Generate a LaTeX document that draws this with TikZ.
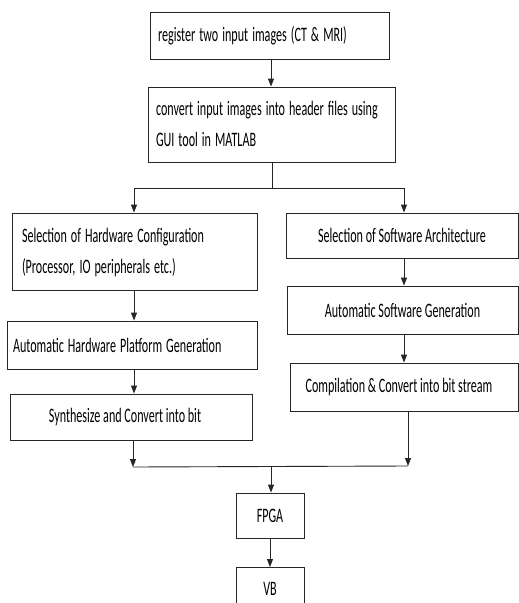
\documentclass[tikz,border=0pt]{standalone}
\usepackage{fontspec}
\setmainfont{Carlito}
\usepackage{graphicx}
\usetikzlibrary{arrows.meta}
\newcommand\tx[1]{\scalebox{1}[1.7]{#1}}
\newcommand\txx[2]{\scalebox{1}[1.7]{\def\arraystretch{1.26}\begin{tabular}{@{}l@{}}#1\\#2\end{tabular}}}
\tikzset{
  box/.style={draw=black!85, line width=0.9pt, rectangle, inner sep=0pt, font=\fontsize{12.1}{14.4}\selectfont},
  arr/.style={draw=black!85, line width=0.9pt, -{Triangle[length=8pt,width=6pt]}},
  ln/.style={draw=black!85, line width=0.9pt}
}
\begin{document}
\begin{tikzpicture}[x=1pt,y=-1pt]
\clip (0,0) rectangle (519,603);
\fill[white] (0,0) rectangle (519,603);
\node[box, minimum width=239pt, minimum height=47pt, text width=223pt, align=left] (b1) at (269.5,35.5) {\tx{register two input images (CT \& MRI)}};
\node[box, minimum width=247pt, minimum height=75pt, text width=231pt, align=left] (b2) at (271.5,124.5) {\txx{convert input images into header files using}{GUI tool in MATLAB}};
\node[box, minimum width=245pt, minimum height=77pt, text width=225pt, align=left] (b3) at (134.5,251.5) {\txx{Selection of Hardware Configuration}{(Processor, IO peripherals etc.)}};
\node[box, minimum width=232pt, minimum height=45pt, align=center] (b4) at (402,235.5) {\tx{Selection of Software Architecture}};
\node[box, minimum width=231pt, minimum height=48pt, align=center] (b5) at (402.5,310) {\tx{Automatic Software Generation}};
\node[box, minimum width=228pt, minimum height=48pt, align=center] (b6) at (404,387) {\tx{\hspace{-10pt}Compilation \& Convert into bit stream}};
\node[box, minimum width=250pt, minimum height=48pt, text width=238pt, align=left] (b7) at (132,345) {\tx{Automatic Hardware Platform Generation}};
\node[box, minimum width=242pt, minimum height=46pt, align=center] (b8) at (131,417) {\tx{\hspace{-12pt}Synthesize and Convert into bit}};
\node[box, minimum width=68pt, minimum height=45pt, align=center] (fpga) at (270,515.5) {\tx{FPGA}};
\node[box, minimum width=68pt, minimum height=50pt, anchor=north] (vb) at (270,567) {\raisebox{8pt}{\tx{VB}}};
% junctions
\coordinate (a1) at (271,59);
\coordinate (j1) at (272,188);
\coordinate (jl) at (134,188);
\coordinate (jr) at (404,188);
\coordinate (j2) at (271,467);
\coordinate (jlb) at (133,467);
\coordinate (jrb) at (408,466);
% connectors
\draw[arr] (a1) -- (a1 |- b2.north);
\draw[ln] (b2.south -| j1) -- (j1);
\draw[ln] (jl) -- (jr);
\draw[arr] (jl) -- (jl |- b3.north);
\draw[arr] (jr) -- (jr |- b4.north);
\draw[arr] (b3.south -| jl) -- (jl |- b7.north);
\draw[arr] (b7.south -| jl) -- (jl |- b8.north);
\draw[arr] (b4.south -| jr) -- (jr |- b5.north);
\draw[arr] (b5.south -| jr) -- (jr |- b6.north);
\draw[arr] (b8.south -| jlb) -- (jlb);
\draw[arr] (b6.south -| jrb) -- (jrb);
\draw[ln] (jlb) -- (jrb);
\draw[arr] (j2) -- (j2 |- fpga.north);
\draw[arr] (fpga.south) -- (vb.north);
\end{tikzpicture}
\end{document}
